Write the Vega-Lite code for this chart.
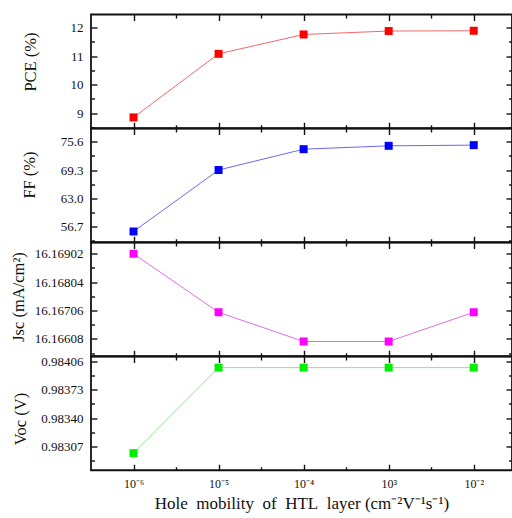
{
  "$schema": "https://vega.github.io/schema/vega-lite/v6.json",
  "padding": {"left": 9, "top": 12.5, "right": 0, "bottom": 0},
  "bounds": "flush",
  "spacing": 0,
  "data": {"values": [
    {"mobility": 1e-6, "PCE": 8.85, "FF": 55.6, "Jsc": 16.16902, "Voc": 0.98299},
    {"mobility": 1e-5, "PCE": 11.08, "FF": 69.3, "Jsc": 16.16700, "Voc": 0.98399},
    {"mobility": 1e-4, "PCE": 11.76, "FF": 73.95, "Jsc": 16.16599, "Voc": 0.98399},
    {"mobility": 1e-3, "PCE": 11.88, "FF": 74.7, "Jsc": 16.16599, "Voc": 0.98399},
    {"mobility": 1e-2, "PCE": 11.89, "FF": 74.85, "Jsc": 16.16700, "Voc": 0.98399}
  ]},
  "config": {
    "view": {"stroke": "#111", "strokeWidth": 1.8},
    "axis": {"domain": false, "grid": false, "tickColor": "#111", "tickWidth": 1.4, "labelFont": "Liberation Serif", "labelColor": "#111", "labelFontSize": 13, "titleFont": "Liberation Serif", "titleColor": "#111", "titleFontWeight": "normal"}
  },
  "vconcat": [
    {
      "width": 421, "height": 113.75,
      "layer": [
        {"mark": {"type": "line", "color": "#f06a6a", "strokeWidth": 1},
         "encoding": {
           "x": {"field": "mobility", "type": "quantitative", "scale": {"type": "log", "domain": [3.16227766e-7, 0.0281838], "nice": false}, "axis": {"orient": "bottom", "values": [1e-6, 1e-5, 1e-4, 1e-3, 1e-2], "labels": false, "title": null, "tickSize": -6}},
           "y": {"field": "PCE", "type": "quantitative", "scale": {"domain": [8.47, 12.46], "nice": false, "zero": false}, "axis": {"orient": "left", "values": [9, 10, 11, 12], "format": "d", "tickSize": -6, "labelPadding": 14, "title": "PCE (%)", "titleFontSize": 16.5, "titleAngle": -90, "titleBaseline": "middle", "titleAlign": "center", "titleX": -61, "titleY": 47}}}},
        {"mark": {"type": "point", "shape": "square", "filled": true, "size": 64, "color": "#ff0000", "opacity": 1},
         "encoding": {
           "x": {"field": "mobility", "type": "quantitative", "scale": {"type": "log", "domain": [3.16227766e-7, 0.0281838], "nice": false}, "axis": {"orient": "top", "values": [1e-6, 1e-5, 1e-4, 1e-3, 1e-2], "labels": false, "title": null, "tickSize": -6}},
           "y": {"field": "PCE", "type": "quantitative", "scale": {"domain": [8.47, 12.46], "nice": false, "zero": false}, "axis": {"orient": "right", "values": [9, 10, 11, 12], "labels": false, "title": null, "tickSize": -6}}}},
        {"mark": {"type": "point", "opacity": 0},
         "encoding": {
           "x": {"field": "mobility", "type": "quantitative", "scale": {"type": "log", "domain": [3.16227766e-7, 0.0281838], "nice": false}, "axis": {"orient": "bottom", "values": [3.16227766e-6, 3.16227766e-5, 3.16227766e-4, 3.16227766e-3], "labels": false, "title": null, "tickSize": -3.5}},
           "y": {"field": "PCE", "type": "quantitative", "scale": {"domain": [8.47, 12.46], "nice": false, "zero": false}, "axis": {"orient": "left", "values": [8.5, 9.5, 10.5, 11.5], "labels": false, "title": null, "tickSize": -3.5}}}},
        {"mark": {"type": "point", "opacity": 0},
         "encoding": {
           "x": {"field": "mobility", "type": "quantitative", "scale": {"type": "log", "domain": [3.16227766e-7, 0.0281838], "nice": false}, "axis": {"orient": "top", "values": [3.16227766e-6, 3.16227766e-5, 3.16227766e-4, 3.16227766e-3], "labels": false, "title": null, "tickSize": -3.5}},
           "y": {"field": "PCE", "type": "quantitative", "scale": {"domain": [8.47, 12.46], "nice": false, "zero": false}, "axis": {"orient": "right", "values": [8.5, 9.5, 10.5, 11.5], "labels": false, "title": null, "tickSize": -3.5}}}}
      ],
      "resolve": {"axis": {"x": "independent", "y": "independent"}}
    },
    {
      "width": 421, "height": 113.75,
      "layer": [
        {"mark": {"type": "line", "color": "#6a6af0", "strokeWidth": 1},
         "encoding": {
           "x": {"field": "mobility", "type": "quantitative", "scale": {"type": "log", "domain": [3.16227766e-7, 0.0281838], "nice": false}, "axis": {"orient": "bottom", "values": [1e-6, 1e-5, 1e-4, 1e-3, 1e-2], "labels": false, "title": null, "tickSize": -6}},
           "y": {"field": "FF", "type": "quantitative", "scale": {"domain": [53.2, 78.56], "nice": false, "zero": false}, "axis": {"orient": "left", "values": [56.7, 63.0, 69.3, 75.6], "format": ".1f", "tickSize": -6, "labelPadding": 14, "title": "FF (%)", "titleFontSize": 16.5, "titleAngle": -90, "titleBaseline": "middle", "titleAlign": "center", "titleX": -62, "titleY": 46}}}},
        {"mark": {"type": "point", "shape": "square", "filled": true, "size": 64, "color": "#0000ff", "opacity": 1},
         "encoding": {
           "x": {"field": "mobility", "type": "quantitative", "scale": {"type": "log", "domain": [3.16227766e-7, 0.0281838], "nice": false}, "axis": {"orient": "top", "values": [1e-6, 1e-5, 1e-4, 1e-3, 1e-2], "labels": false, "title": null, "tickSize": -6}},
           "y": {"field": "FF", "type": "quantitative", "scale": {"domain": [53.2, 78.56], "nice": false, "zero": false}, "axis": {"orient": "right", "values": [56.7, 63.0, 69.3, 75.6], "labels": false, "title": null, "tickSize": -6}}}},
        {"mark": {"type": "point", "opacity": 0},
         "encoding": {
           "x": {"field": "mobility", "type": "quantitative", "scale": {"type": "log", "domain": [3.16227766e-7, 0.0281838], "nice": false}, "axis": {"orient": "bottom", "values": [3.16227766e-6, 3.16227766e-5, 3.16227766e-4, 3.16227766e-3], "labels": false, "title": null, "tickSize": -3.5}},
           "y": {"field": "FF", "type": "quantitative", "scale": {"domain": [53.2, 78.56], "nice": false, "zero": false}, "axis": {"orient": "left", "values": [53.55, 59.85, 66.15, 72.45], "labels": false, "title": null, "tickSize": -3.5}}}},
        {"mark": {"type": "point", "opacity": 0},
         "encoding": {
           "x": {"field": "mobility", "type": "quantitative", "scale": {"type": "log", "domain": [3.16227766e-7, 0.0281838], "nice": false}, "axis": {"orient": "top", "values": [3.16227766e-6, 3.16227766e-5, 3.16227766e-4, 3.16227766e-3], "labels": false, "title": null, "tickSize": -3.5}},
           "y": {"field": "FF", "type": "quantitative", "scale": {"domain": [53.2, 78.56], "nice": false, "zero": false}, "axis": {"orient": "right", "values": [53.55, 59.85, 66.15, 72.45], "labels": false, "title": null, "tickSize": -3.5}}}}
      ],
      "resolve": {"axis": {"x": "independent", "y": "independent"}}
    },
    {
      "width": 421, "height": 113.75,
      "layer": [
        {"mark": {"type": "line", "color": "#e070e0", "strokeWidth": 1},
         "encoding": {
           "x": {"field": "mobility", "type": "quantitative", "scale": {"type": "log", "domain": [3.16227766e-7, 0.0281838], "nice": false}, "axis": {"orient": "bottom", "values": [1e-6, 1e-5, 1e-4, 1e-3, 1e-2], "labels": false, "title": null, "tickSize": -6}},
           "y": {"field": "Jsc", "type": "quantitative", "scale": {"domain": [16.16548, 16.16941], "nice": false, "zero": false}, "axis": {"orient": "left", "values": [16.16608, 16.16706, 16.16804, 16.16902], "format": ".5f", "tickSize": -6, "labelPadding": 14, "title": "Jsc (mA/cm²)", "titleFontSize": 16.5, "titleAngle": -90, "titleBaseline": "middle", "titleAlign": "center", "titleX": -73, "titleY": 54}}}},
        {"mark": {"type": "point", "shape": "square", "filled": true, "size": 64, "color": "#ff00ff", "opacity": 1},
         "encoding": {
           "x": {"field": "mobility", "type": "quantitative", "scale": {"type": "log", "domain": [3.16227766e-7, 0.0281838], "nice": false}, "axis": {"orient": "top", "values": [1e-6, 1e-5, 1e-4, 1e-3, 1e-2], "labels": false, "title": null, "tickSize": -6}},
           "y": {"field": "Jsc", "type": "quantitative", "scale": {"domain": [16.16548, 16.16941], "nice": false, "zero": false}, "axis": {"orient": "right", "values": [16.16608, 16.16706, 16.16804, 16.16902], "labels": false, "title": null, "tickSize": -6}}}},
        {"mark": {"type": "point", "opacity": 0},
         "encoding": {
           "x": {"field": "mobility", "type": "quantitative", "scale": {"type": "log", "domain": [3.16227766e-7, 0.0281838], "nice": false}, "axis": {"orient": "bottom", "values": [3.16227766e-6, 3.16227766e-5, 3.16227766e-4, 3.16227766e-3], "labels": false, "title": null, "tickSize": -3.5}},
           "y": {"field": "Jsc", "type": "quantitative", "scale": {"domain": [16.16548, 16.16941], "nice": false, "zero": false}, "axis": {"orient": "left", "values": [16.16559, 16.16657, 16.16755, 16.16853], "labels": false, "title": null, "tickSize": -3.5}}}},
        {"mark": {"type": "point", "opacity": 0},
         "encoding": {
           "x": {"field": "mobility", "type": "quantitative", "scale": {"type": "log", "domain": [3.16227766e-7, 0.0281838], "nice": false}, "axis": {"orient": "top", "values": [3.16227766e-6, 3.16227766e-5, 3.16227766e-4, 3.16227766e-3], "labels": false, "title": null, "tickSize": -3.5}},
           "y": {"field": "Jsc", "type": "quantitative", "scale": {"domain": [16.16548, 16.16941], "nice": false, "zero": false}, "axis": {"orient": "right", "values": [16.16559, 16.16657, 16.16755, 16.16853], "labels": false, "title": null, "tickSize": -3.5}}}}
      ],
      "resolve": {"axis": {"x": "independent", "y": "independent"}}
    },
    {
      "width": 421, "height": 113.75,
      "layer": [
        {"mark": {"type": "line", "color": "#80ee80", "strokeWidth": 1},
         "encoding": {
           "x": {"field": "mobility", "type": "quantitative", "scale": {"type": "log", "domain": [3.16227766e-7, 0.0281838], "nice": false}, "axis": {"orient": "bottom", "values": [1e-6, 1e-5, 1e-4, 1e-3, 1e-2], "labelExpr": "['10⁻⁶','10⁻⁵','10⁻⁴','10³','10⁻²'][round(log(datum.value)/LN10)+6]", "labelFontSize": 12, "labelPadding": 14, "tickSize": -6, "title": "Hole\u00a0 mobility\u00a0 of\u00a0 HTL\u00a0 layer (cm⁻²V⁻¹s⁻¹)", "titleFontSize": 17, "titlePadding": 6}},
           "y": {"field": "Voc", "type": "quantitative", "scale": {"domain": [0.98279, 0.98412], "nice": false, "zero": false}, "axis": {"orient": "left", "values": [0.98307, 0.9834, 0.98373, 0.98406], "format": ".5f", "tickSize": -6, "labelPadding": 14, "title": "Voc (V)", "titleFontSize": 16.5, "titleAngle": -90, "titleBaseline": "middle", "titleAlign": "center", "titleX": -71, "titleY": 62}}}},
        {"mark": {"type": "point", "shape": "square", "filled": true, "size": 64, "color": "#00ee00", "opacity": 1},
         "encoding": {
           "x": {"field": "mobility", "type": "quantitative", "scale": {"type": "log", "domain": [3.16227766e-7, 0.0281838], "nice": false}, "axis": {"orient": "top", "values": [1e-6, 1e-5, 1e-4, 1e-3, 1e-2], "labels": false, "title": null, "tickSize": -6}},
           "y": {"field": "Voc", "type": "quantitative", "scale": {"domain": [0.98279, 0.98412], "nice": false, "zero": false}, "axis": {"orient": "right", "values": [0.98307, 0.9834, 0.98373, 0.98406], "labels": false, "title": null, "tickSize": -6}}}},
        {"mark": {"type": "point", "opacity": 0},
         "encoding": {
           "x": {"field": "mobility", "type": "quantitative", "scale": {"type": "log", "domain": [3.16227766e-7, 0.0281838], "nice": false}, "axis": {"orient": "bottom", "values": [3.16227766e-6, 3.16227766e-5, 3.16227766e-4, 3.16227766e-3], "labels": false, "title": null, "tickSize": -3.5}},
           "y": {"field": "Voc", "type": "quantitative", "scale": {"domain": [0.98279, 0.98412], "nice": false, "zero": false}, "axis": {"orient": "left", "values": [0.982905, 0.983235, 0.983565, 0.983895], "labels": false, "title": null, "tickSize": -3.5}}}},
        {"mark": {"type": "point", "opacity": 0},
         "encoding": {
           "x": {"field": "mobility", "type": "quantitative", "scale": {"type": "log", "domain": [3.16227766e-7, 0.0281838], "nice": false}, "axis": {"orient": "top", "values": [3.16227766e-6, 3.16227766e-5, 3.16227766e-4, 3.16227766e-3], "labels": false, "title": null, "tickSize": -3.5}},
           "y": {"field": "Voc", "type": "quantitative", "scale": {"domain": [0.98279, 0.98412], "nice": false, "zero": false}, "axis": {"orient": "right", "values": [0.982905, 0.983235, 0.983565, 0.983895], "labels": false, "title": null, "tickSize": -3.5}}}}
      ],
      "resolve": {"axis": {"x": "independent", "y": "independent"}}
    }
  ]
}
